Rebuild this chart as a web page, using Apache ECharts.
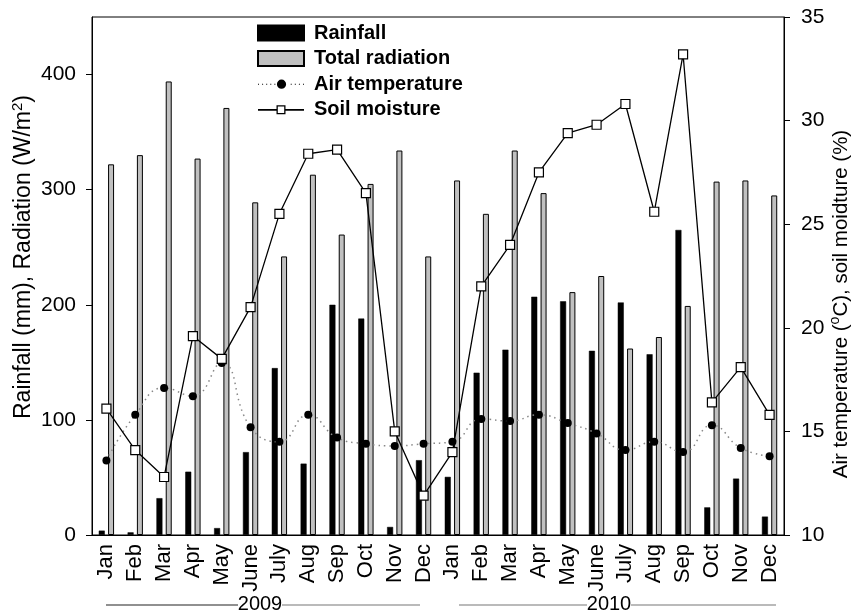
<!DOCTYPE html>
<html>
<head>
<meta charset="utf-8">
<script src="https://cdn.jsdelivr.net/npm/echarts@6/dist/echarts.min.js"></script>
<style>html,body{margin:0;padding:0;background:#fff}#c{width:863px;height:615px}</style>
</head>
<body>
<div id="c"></div>
<script>
var months = ['Jan','Feb','Mar','Apr','May','June','July','Aug','Sep','Oct','Nov','Dec',
              'Jan','Feb','Mar','Apr','May','June','July','Aug','Sep','Oct','Nov','Dec'];
var rainfall = [3.8, 2.3, 32, 55, 6, 72, 145, 62, 200, 188, 7, 65,
                50.5, 141, 161, 207, 203, 160, 202, 157, 265, 24, 49, 16];
var radiation = [322, 330, 394, 327, 371, 289, 242, 313, 261, 305, 334, 242,
                 308, 279, 334, 297, 211, 225, 162, 172, 199, 307, 308, 295];
var airTemp = [13.6, 15.8, 17.1, 16.7, 18.3, 15.2, 14.5, 15.8, 14.7, 14.4, 14.3, 14.4,
               14.5, 15.6, 15.5, 15.8, 15.4, 14.9, 14.1, 14.5, 14.0, 15.3, 14.2, 13.8];
var soilMoisture = [16.1, 14.1, 12.8, 19.6, 18.5, 21.0, 25.5, 28.4, 28.6, 26.5, 15.0, 11.9,
                    14.0, 22.0, 24.0, 27.5, 29.4, 29.8, 30.8, 25.6, 33.2, 16.4, 18.1, 15.8];
var leftTicks = [0, 100, 200, 300, 400];
var years = ['2009', '2010'];

var FONT = '"Liberation Sans", Arial, sans-serif';

// legend glyphs (46 x 15 box)
function dottedCircleIcon() {
  var p = '';
  for (var x = 0; x <= 45; x += 4) {
    if (x > 17 && x < 29) continue;
    p += 'M' + x + ',7 h1 v1 h-1 Z ';
  }
  p += 'M18.5,7.5 A4.5,4.5 0 1,0 27.5,7.5 A4.5,4.5 0 1,0 18.5,7.5 Z';
  return 'path://' + p;
}
var soilIcon = 'path://M0,6.8 H18.5 V8.4 H0 Z M27.5,6.8 H46 V8.4 H27.5 Z ' +
  'M18.5,3 H27.5 V12 H18.5 Z M19.8,4.3 V10.7 H26.2 V4.3 Z';

var chart = echarts.init(document.getElementById('c'), null, {renderer: 'canvas'});
var option = {
  animation: false,
  backgroundColor: '#fff',
  textStyle: {fontFamily: FONT, color: '#000'},
  grid: {left: 92, right: 79, top: 17, bottom: 80, show: true, borderColor: '#000', borderWidth: 1, backgroundColor: 'transparent'},
  legend: {
    orient: 'vertical', left: 257, top: 23, padding: 0,
    itemWidth: 46, itemHeight: 15, itemGap: 5.6,
    textStyle: {fontFamily: FONT, fontWeight: 'bold', fontSize: 20, color: '#000', lineHeight: 20, padding: [0, 0, 0, 5]},
    data: [
      {name: 'Rainfall', icon: 'rect'},
      {name: 'Total radiation', icon: 'rect'},
      {name: 'Air temperature', icon: dottedCircleIcon(), itemStyle: {color: '#000', borderWidth: 0}},
      {name: 'Soil moisture', icon: soilIcon, itemStyle: {color: '#000', borderWidth: 0}}
    ]
  },
  xAxis: {
    type: 'category', data: months, boundaryGap: true,
    axisLine: {lineStyle: {color: '#000', width: 1}},
    axisTick: {alignWithLabel: true, length: 7, lineStyle: {color: '#000'}},
    axisLabel: {rotate: 90, fontSize: 22, color: '#000', margin: 9, interval: 0, fontFamily: FONT},
    splitLine: {show: false}
  },
  yAxis: [{
    type: 'value', min: 0, max: 450, interval: 50,
    axisLine: {show: true, lineStyle: {color: '#000'}},
    axisTick: {show: true, length: 6, customValues: leftTicks, lineStyle: {color: '#000'}},
    axisLabel: {fontSize: 21, color: '#000', margin: 16, customValues: leftTicks, fontFamily: FONT},
    splitLine: {show: false}
  }, {
    type: 'value', min: 10, max: 35, interval: 5, position: 'right',
    axisLine: {show: true, lineStyle: {color: '#000'}},
    axisTick: {show: true, length: 6, lineStyle: {color: '#000'}},
    axisLabel: {fontSize: 21, color: '#000', margin: 17, fontFamily: FONT},
    splitLine: {show: false}
  }],
  series: [{
    name: 'Rainfall', type: 'bar', yAxisIndex: 0, data: rainfall,
    barWidth: 6, barGap: '55%',
    itemStyle: {color: '#000', borderColor: '#000', borderWidth: 0.5}
  }, {
    name: 'Total radiation', type: 'bar', yAxisIndex: 0, data: radiation,
    barWidth: 6, barGap: '55%',
    itemStyle: {color: '#c0c0c0', borderColor: '#000', borderWidth: 1}
  }, {
    name: 'Air temperature', type: 'line', yAxisIndex: 1, data: airTemp, smooth: 0.5,
    symbol: 'circle', symbolSize: 8,
    lineStyle: {color: '#888', width: 1.5, type: [1.5, 4]},
    itemStyle: {color: '#000', borderColor: '#000', borderWidth: 0},
    z: 3
  }, {
    name: 'Soil moisture', type: 'line', yAxisIndex: 1, data: soilMoisture,
    symbol: 'rect', symbolSize: 9,
    lineStyle: {color: '#000', width: 1.3},
    itemStyle: {color: '#fff', borderColor: '#000', borderWidth: 1.2},
    z: 4
  }],
  graphic: [
    {type: 'text', x: 24, y: 257, rotation: Math.PI / 2,
     style: {text: '{a|Rainfall (mm), Radiation (W/m}{s|2}{a|)}', align: 'center', verticalAlign: 'middle',
       rich: {a: {fontSize: 23, fontFamily: FONT, fill: '#000', lineHeight: 27},
              s: {fontSize: 15, fontFamily: FONT, fill: '#000', verticalAlign: 'top', padding: [0, 0, 10, 0]}}}},
    {type: 'text', x: 841, y: 304, rotation: Math.PI / 2,
     style: {text: '{a|Air temperature (}{s|o}{a|C), soil moidture (%)}', align: 'center', verticalAlign: 'middle',
       rich: {a: {fontSize: 20.5, fontFamily: FONT, fill: '#000', lineHeight: 25},
              s: {fontSize: 14, fontFamily: FONT, fill: '#000', verticalAlign: 'top', padding: [0, 0, 9, 0]}}}},
    {type: 'line', shape: {x1: 106, y1: 605, x2: 238, y2: 605}, style: {stroke: '#222', lineWidth: 1.2}},
    {type: 'line', shape: {x1: 282, y1: 605, x2: 420, y2: 605}, style: {stroke: '#777', lineWidth: 1.2}},
    {type: 'text', x: 260, y: 604, style: {text: years[0], fontSize: 20, fontFamily: FONT, fill: '#000', align: 'center', verticalAlign: 'middle'}},
    {type: 'line', shape: {x1: 459, y1: 605, x2: 587, y2: 605}, style: {stroke: '#777', lineWidth: 1.2}},
    {type: 'line', shape: {x1: 631, y1: 605, x2: 776, y2: 605}, style: {stroke: '#777', lineWidth: 1.2}},
    {type: 'text', x: 609, y: 604, style: {text: years[1], fontSize: 20, fontFamily: FONT, fill: '#000', align: 'center', verticalAlign: 'middle'}}
  ]
};
chart.setOption(option);
</script>
</body>
</html>
